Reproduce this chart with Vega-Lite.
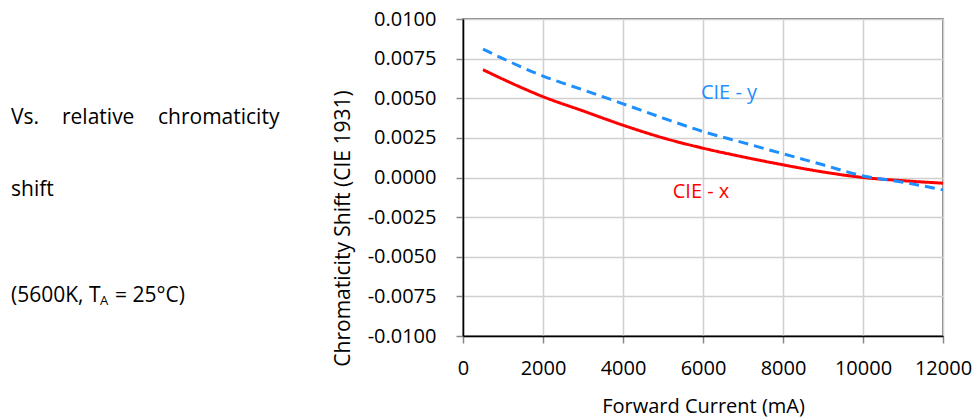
{
  "$schema": "https://vega.github.io/schema/vega-lite/v6.json",
  "padding": {"left": 0, "top": 8, "right": 0, "bottom": 0},
  "autosize": {"type": "pad"},
  "spacing": 41,
  "config": {
    "font": "Open Sans",
    "axis": {
      "labelFont": "Open Sans", "titleFont": "Open Sans",
      "labelFontSize": 20, "titleFontSize": 20, "titleFontWeight": "normal",
      "labelColor": "#000", "titleColor": "#000",
      "gridColor": "#d0d0d0", "gridWidth": 1.5,
      "tickColor": "#888", "tickSize": 7, "tickWidth": 1.5,
      "domainColor": "#000", "domainWidth": 1.5,
      "labelOverlap": false
    },
    "text": {"font": "Open Sans"}
  },
  "hconcat": [
    {
      "width": 290,
      "height": 317,
      "view": {"stroke": null},
      "layer": [
        {
          "data": {"values": [
            {"t": "Vs.", "px": 11, "py": 105},
            {"t": "relative", "px": 62, "py": 105},
            {"t": "chromaticity", "px": 158, "py": 105},
            {"t": "shift", "px": 11, "py": 177},
            {"t": "(5600K, T", "px": 11, "py": 283},
            {"t": "= 25°C)", "px": 115, "py": 283}
          ]},
          "mark": {"type": "text", "fontSize": 21, "align": "left", "baseline": "alphabetic", "color": "#000"},
          "encoding": {
            "x": {"field": "px", "type": "quantitative", "scale": {"domain": [0, 290], "nice": false, "zero": false}, "axis": null},
            "y": {"field": "py", "type": "quantitative", "scale": {"domain": [0, 317], "nice": false, "zero": false, "reverse": true}, "axis": null},
            "text": {"field": "t"}
          }
        },
        {
          "data": {"values": [
            {"t": "A", "px": 100, "py": 286}
          ]},
          "mark": {"type": "text", "fontSize": 13, "align": "left", "baseline": "alphabetic", "color": "#000"},
          "encoding": {
            "x": {"field": "px", "type": "quantitative", "scale": {"domain": [0, 290], "nice": false, "zero": false}, "axis": null},
            "y": {"field": "py", "type": "quantitative", "scale": {"domain": [0, 317], "nice": false, "zero": false, "reverse": true}, "axis": null},
            "text": {"field": "t"}
          }
        }
      ]
    },
    {
      "width": 480,
      "height": 317,
      "view": {"stroke": "#555", "strokeWidth": 1.5},
      "layer": [
        {
          "data": {"values": [
            {"current": 500, "shift": 0.0068, "series": "CIE - x"},
            {"current": 1000, "shift": 0.0062, "series": "CIE - x"},
            {"current": 2000, "shift": 0.0051, "series": "CIE - x"},
            {"current": 3000, "shift": 0.0042, "series": "CIE - x"},
            {"current": 4000, "shift": 0.0033, "series": "CIE - x"},
            {"current": 5000, "shift": 0.0025, "series": "CIE - x"},
            {"current": 6000, "shift": 0.00185, "series": "CIE - x"},
            {"current": 7000, "shift": 0.0013, "series": "CIE - x"},
            {"current": 8000, "shift": 0.0008, "series": "CIE - x"},
            {"current": 9000, "shift": 0.00035, "series": "CIE - x"},
            {"current": 10000, "shift": 0.0, "series": "CIE - x"},
            {"current": 11000, "shift": -0.0002, "series": "CIE - x"},
            {"current": 12000, "shift": -0.00036, "series": "CIE - x"},
            {"current": 500, "shift": 0.0081, "series": "CIE - y"},
            {"current": 1000, "shift": 0.0075, "series": "CIE - y"},
            {"current": 2000, "shift": 0.0064, "series": "CIE - y"},
            {"current": 3000, "shift": 0.00553, "series": "CIE - y"},
            {"current": 4000, "shift": 0.00465, "series": "CIE - y"},
            {"current": 5000, "shift": 0.00375, "series": "CIE - y"},
            {"current": 6000, "shift": 0.0029, "series": "CIE - y"},
            {"current": 7000, "shift": 0.0022, "series": "CIE - y"},
            {"current": 8000, "shift": 0.0015, "series": "CIE - y"},
            {"current": 9000, "shift": 0.0008, "series": "CIE - y"},
            {"current": 10000, "shift": 0.0001, "series": "CIE - y"},
            {"current": 11000, "shift": -0.0003, "series": "CIE - y"},
            {"current": 12000, "shift": -0.00078, "series": "CIE - y"}
          ]},
          "mark": {"type": "line", "strokeWidth": 3, "interpolate": "monotone"},
          "encoding": {
            "x": {
              "field": "current", "type": "quantitative",
              "scale": {"domain": [0, 12000], "nice": false},
              "axis": {"title": "Forward Current (mA)", "values": [0, 2000, 4000, 6000, 8000, 10000, 12000], "tickCount": 20, "format": "d", "grid": true, "labelPadding": 15, "titlePadding": 18, "labelFlush": false}
            },
            "y": {
              "field": "shift", "type": "quantitative",
              "scale": {"domain": [-0.01, 0.01], "nice": false},
              "axis": {"title": "Chromaticity Shift (CIE 1931)", "titleFontSize": 21, "titleY": 209, "values": [-0.01, -0.0075, -0.005, -0.0025, 0, 0.0025, 0.005, 0.0075, 0.01], "tickCount": 20, "labelExpr": "replace(format(datum.value, '.4f'), '\u2212', '-')", "grid": true, "labelPadding": 20, "titlePadding": 14, "labelFlush": false}
            },
            "color": {"field": "series", "type": "nominal", "scale": {"domain": ["CIE - x", "CIE - y"], "range": ["#ff0000", "#1e8fff"]}, "legend": null},
            "strokeDash": {"field": "series", "type": "nominal", "scale": {"domain": ["CIE - x", "CIE - y"], "range": [[1, 0], [10, 6]]}, "legend": null}
          }
        },
        {
          "data": {"values": [
            {"current": 6650, "shift": 0.0053, "series": "CIE - y"},
            {"current": 5950, "shift": -0.0009, "series": "CIE - x"}
          ]},
          "mark": {"type": "text", "fontSize": 20, "align": "center", "baseline": "middle"},
          "encoding": {
            "x": {"field": "current", "type": "quantitative"},
            "y": {"field": "shift", "type": "quantitative"},
            "text": {"field": "series"},
            "color": {"field": "series", "type": "nominal", "legend": null}
          }
        }
      ]
    }
  ]
}
